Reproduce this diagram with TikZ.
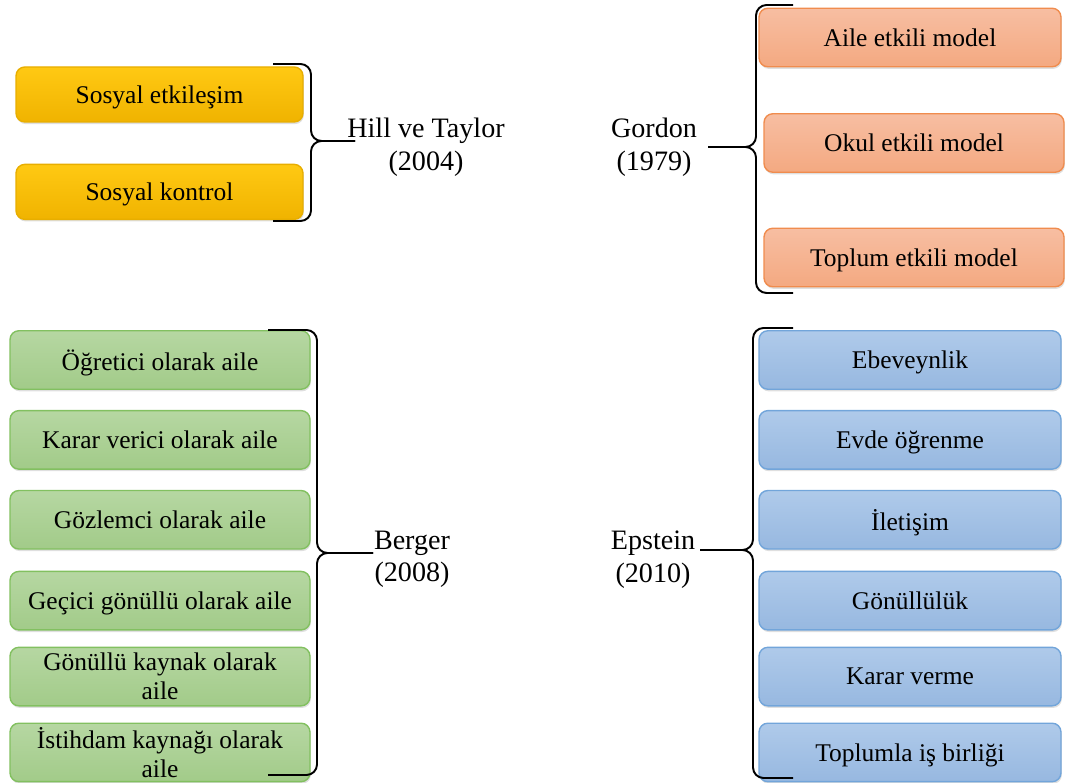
\documentclass[tikz,border=0pt]{standalone}
\usepackage{fontspec}
\setmainfont{Liberation Serif}
\usepackage{tikz}
\usetikzlibrary{positioning, shadows}

\definecolor{ylwtop}{HTML}{FFC913}
\definecolor{ylwbot}{HTML}{F0B300}
\definecolor{ylwline}{HTML}{E8AE00}
\definecolor{orgtop}{HTML}{F7BEA2}
\definecolor{orgbot}{HTML}{F4A981}
\definecolor{orgline}{HTML}{F08C4E}
\definecolor{grntop}{HTML}{B6D7A2}
\definecolor{grnbot}{HTML}{A2CB89}
\definecolor{grnline}{HTML}{82C060}
\definecolor{blutop}{HTML}{AFCAEA}
\definecolor{blubot}{HTML}{97B8E0}
\definecolor{bluline}{HTML}{72A5DA}

\begin{document}
\begin{tikzpicture}[x=0.02cm, y=-0.02cm,
    itembox/.style={draw, line width=0.8pt, rounded corners=5pt, align=center,
        font=\rmfamily\fontsize{14.5}{16.5}\selectfont, inner sep=2pt, text depth=0pt,
        drop shadow={shadow xshift=0.5pt, shadow yshift=-1.2pt, opacity=0.25}},
    twoline/.style={text depth=},
    yellowbox/.style={itembox, draw=ylwline, top color=ylwtop, bottom color=ylwbot,
        minimum width=5.74cm, minimum height=1.1cm},
    orangebox/.style={itembox, draw=orgline, top color=orgtop, bottom color=orgbot,
        minimum width=6cm, minimum height=1.17cm},
    greenbox/.style={itembox, draw=grnline, top color=grntop, bottom color=grnbot,
        minimum width=6cm, minimum height=1.17cm},
    bluebox/.style={itembox, draw=bluline, top color=blutop, bottom color=blubot,
        minimum width=6.04cm, minimum height=1.17cm},
    reflabel/.style={align=center, font=\rmfamily\fontsize{16}{18.5}\selectfont, inner sep=0pt},
    bracket/.style={line width=1.1pt, rounded corners=6pt}]

    \useasboundingbox (0,0) rectangle (1066,783);

    % Hill ve Taylor
    \node (sosetk) [yellowbox] at (159.5,94.5) {Sosyal etkileşim};
    \node (soskon) [yellowbox, below=0.82cm of sosetk] {Sosyal kontrol};
    \node (hill) [reflabel] at (426,147) {Hill ve Taylor\\(2004)};
    \coordinate (hilltip) at (355,141);
    \draw[bracket] (273,64) -- (311,64) -- (311,141) -- (hilltip);
    \draw[bracket] (273,221) -- (311,221) -- (311,141) -- (hilltip);

    % Gordon
    \node (aile) [orangebox, minimum width=6.04cm] at (910,37.5) {Aile etkili model};
    \node (okul) [orangebox] at (914,143) {Okul etkili model};
    \node (toplum) [orangebox] at (914,257.5) {Toplum etkili model};
    \node (gordon) [reflabel] at (654,147) {Gordon\\(1979)};
    \coordinate (gordontip) at (708,147);
    \draw[bracket] (793,5) -- (756,5) -- (756,147) -- (gordontip);
    \draw[bracket] (793,293) -- (756,293) -- (756,147) -- (gordontip);

    % Berger
    \node (ogretici) [greenbox] at (160,360) {Öğretici olarak aile};
    \node (karar) [greenbox, below=0.4cm of ogretici] {Karar verici olarak aile};
    \node (gozlemci) [greenbox, below=0.4cm of karar] {Gözlemci olarak aile};
    \node (gecici) [greenbox, below=0.42cm of gozlemci] {Geçici gönüllü olarak aile};
    \node (kaynak) [greenbox, twoline, below=0.32cm of gecici] {Gönüllü kaynak olarak\\aile};
    \node (istihdam) [greenbox, twoline, below=0.32cm of kaynak] {İstihdam kaynağı olarak\\aile};
    \node (berger) [reflabel] at (412,559.5) {Berger\\(2008)};
    \coordinate (bergertip) at (373,553);
    \draw[bracket] (268,330) -- (317,330) -- (317,553) -- (bergertip);
    \draw[bracket] (268,775) -- (317,775) -- (317,553) -- (bergertip);

    % Epstein
    \node (ebeveyn) [bluebox] at (910,360) {Ebeveynlik};
    \node (evde) [bluebox, below=0.4cm of ebeveyn] {Evde öğrenme};
    \node (iletisim) [bluebox, below=0.4cm of evde] {İletişim};
    \node (gonullu) [bluebox, below=0.42cm of iletisim] {Gönüllülük};
    \node (kararver) [bluebox, below=0.32cm of gonullu] {Karar verme};
    \node (toplumla) [bluebox, below=0.32cm of kararver] {Toplumla iş birliği};
    \node (epstein) [reflabel] at (653,559.5) {Epstein\\(2010)};
    \coordinate (epsteintip) at (700,550);
    \draw[bracket] (793,328) -- (753,328) -- (753,550) -- (epsteintip);
    \draw[bracket] (793,778) -- (753,778) -- (753,550) -- (epsteintip);

\end{tikzpicture}
\end{document}
